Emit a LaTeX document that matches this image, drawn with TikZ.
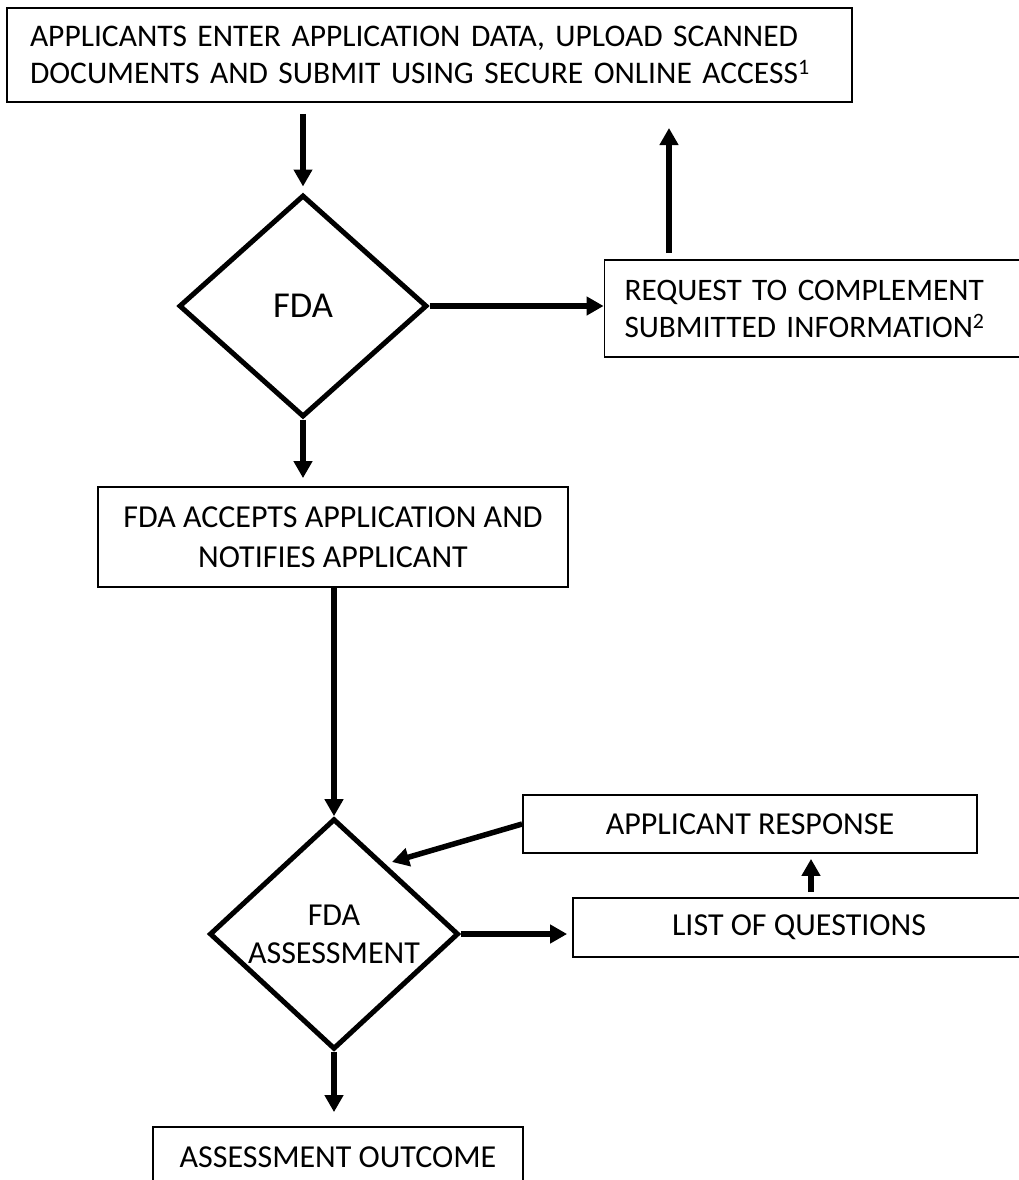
\documentclass[tikz,border=0pt]{standalone}
\usepackage{fontspec}
\setmainfont{Carlito}
\usetikzlibrary{arrows.meta,positioning,shapes.geometric}
\tikzset{
  box/.style={draw, line width=1.8pt, inner sep=0pt, align=center,
              font=\fontsize{32}{40}\selectfont},
  decision/.style={draw, diamond, line width=5pt, inner sep=0pt, align=center,
              font=\fontsize{32}{38}\selectfont},
  flow/.style={-{Triangle[length=17pt,width=18pt]}, line width=5.5pt},
}
\begin{document}
\begin{tikzpicture}[x=1pt,y=-1pt]
    \fill[white] (0,0) rectangle (1019,1180);
    \clip (0,0) rectangle (1019,1180);
    \node[box,minimum width=845pt,minimum height=94pt,text width=799pt,align=left,
          font=\fontsize{31.5}{37}\selectfont]
      (apply) at (429.5,55) {APPLICANTS ENTER APPLICATION DATA, UPLOAD SCANNED\\ DOCUMENTS AND SUBMIT USING SECURE ONLINE ACCESS\textsuperscript{1}};
    \node[decision,minimum width=248pt,minimum height=222pt,font=\fontsize{36.5}{40}\selectfont]
      (fda) at (303,306) {FDA};
    \node[box,minimum width=435pt,minimum height=97pt,text width=395pt,align=left,
          font=\fontsize{31.3}{37}\selectfont]
      (req) at (822,308.5) {REQUEST TO COMPLEMENT\\ SUBMITTED INFORMATION\textsuperscript{2}};
    \coordinate (back) at (669,128);
    \node[box,minimum width=470pt,minimum height=100pt]
      (accept) at (333,537) {FDA ACCEPTS APPLICATION AND\\ NOTIFIES APPLICANT};
    \node[decision,minimum width=249pt,minimum height=227pt]
      (assess) at (334,934) {FDA\\ ASSESSMENT};
    \node[box,minimum width=454pt,minimum height=58pt]
      (resp) at (750,824) {APPLICANT RESPONSE};
    \node[box,minimum width=452pt,minimum height=59pt]
      (loq) at (799,927.5) {LIST OF QUESTIONS};
    \coordinate (rin) at (392,862);
    \node[box,minimum width=370pt,minimum height=60pt]
      (outcome) at (338,1157) {ASSESSMENT OUTCOME};
    \draw[flow,shorten <=11pt,shorten >=6pt] (apply.south -| fda.north) -- (fda.north);
    \draw[flow] (fda.east) -- (fda.east -| req.west);
    \draw[flow,shorten <=6pt] (req.north -| back) -- (back);
    \draw[flow,shorten >=8pt] (fda.south) -- (accept.north -| fda.south);
    \draw[flow] (accept.south -| assess.north) -- (assess.north);
    \draw[flow,shorten >=5pt] (assess.east) -- (assess.east -| loq.west);
    \draw[flow,shorten <=5pt,shorten >=5pt] ([xshift=12pt]loq.north) -- ([xshift=61pt]resp.south);
    \draw[flow] (resp.west) -- (rin);
    \draw[flow,shorten >=14pt] (assess.south) -- (outcome.north -| assess.south);
\end{tikzpicture}
\end{document}
